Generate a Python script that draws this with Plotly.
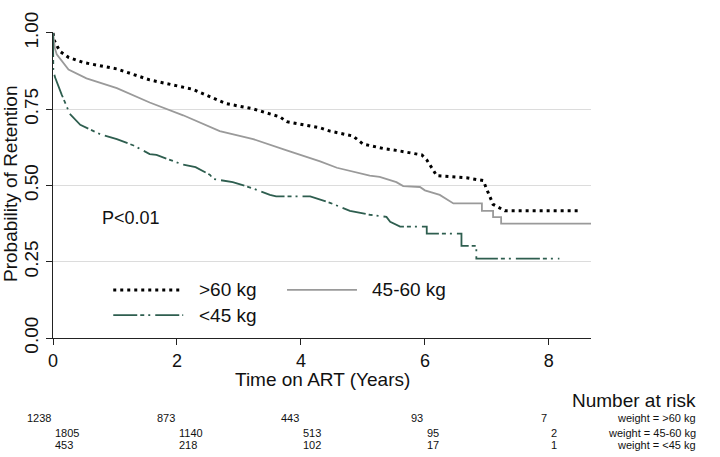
import plotly.graph_objects as go

# ---- data ----
t_gt60 = [0, 0.02, 0.11, 0.25, 0.49, 1.03, 1.56, 2.10, 2.26, 2.69, 2.80, 3.23, 3.66, 3.77, 4.31, 4.47,
          4.84, 5.00, 5.33, 5.54, 5.95, 6.03, 6.19, 6.67, 6.94, 7.10, 7.29, 8.50]
s_gt60 = [1.0, 0.975, 0.940, 0.920, 0.903, 0.882, 0.846, 0.824, 0.815, 0.777, 0.768, 0.751, 0.725, 0.709, 0.689, 0.678,
          0.662, 0.636, 0.621, 0.615, 0.600, 0.584, 0.532, 0.525, 0.516, 0.438, 0.417, 0.417]

t_4560 = [0, 0.03, 0.06, 0.14, 0.25, 0.54, 1.03, 1.56, 2.10, 2.69, 2.80, 3.23, 3.77, 4.31, 4.58, 5.11, 5.27,
          5.54, 5.65, 5.92, 6.00, 6.24, 6.46, 6.92, 6.92, 7.10, 7.10, 7.23, 7.23, 8.68]
s_4560 = [1.0, 0.950, 0.930, 0.908, 0.880, 0.851, 0.819, 0.772, 0.730, 0.678, 0.673, 0.652, 0.615, 0.579, 0.558, 0.532, 0.528,
          0.511, 0.498, 0.495, 0.484, 0.469, 0.441, 0.441, 0.417, 0.417, 0.396, 0.396, 0.375, 0.375]

t_lt45 = [0, 0.005, 0.03, 0.06, 0.14, 0.27, 0.44, 0.76, 1.03, 1.30, 1.56, 1.67, 2.10, 2.30, 2.53, 2.59, 2.90,
          3.23, 3.50, 3.60, 4.15, 4.47, 4.79, 5.11, 5.38, 5.44, 5.60, 6.03, 6.03, 6.59, 6.59, 6.83, 6.83, 8.17]
s_lt45 = [1.0, 0.880, 0.856, 0.840, 0.798, 0.735, 0.699, 0.668, 0.652, 0.631, 0.603, 0.600, 0.568, 0.560, 0.535, 0.521, 0.511,
          0.490, 0.469, 0.464, 0.464, 0.443, 0.417, 0.404, 0.397, 0.381, 0.365, 0.365, 0.342, 0.342, 0.302, 0.302, 0.260, 0.260]

group_names = [">60 kg", "45-60 kg", "<45 kg"]
risk_times = [0, 2, 4, 6, 8]
risk_gt60 = [1238, 873, 443, 93, 7]
risk_4560 = [1805, 1140, 513, 95, 2]
risk_lt45 = [453, 218, 102, 17, 1]
x_ticks = [0, 2, 4, 6, 8]
y_ticks = [0, 0.25, 0.5, 0.75, 1.0]
y_ticktext = ["0.00", "0.25", "0.50", "0.75", "1.00"]

FONT = "Liberation Sans, Arial, sans-serif"
BLACK = "#000000"
GRAY = "#9a9a9a"
GREEN = "#2e5e4f"
DOT = "3px,4px"
DASHDOT = "24px,3px,4px,4px,2px,5px"

fig = go.Figure()
fig.add_trace(go.Scatter(x=t_gt60, y=s_gt60, mode="lines", name=group_names[0],
                         line=dict(color=BLACK, width=3, dash=DOT), showlegend=False))
fig.add_trace(go.Scatter(x=t_4560, y=s_4560, mode="lines", name=group_names[1],
                         line=dict(color=GRAY, width=1.8), showlegend=False))
fig.add_trace(go.Scatter(x=t_lt45, y=s_lt45, mode="lines", name=group_names[2],
                         line=dict(color=GREEN, width=1.8, dash=DASHDOT), showlegend=False))

# manual legend keys (paper coords)
legend_items = [
    (0.112, 0.242, 0.157, BLACK, 3, DOT, 0.268, group_names[0]),
    (0.435, 0.565, 0.157, GRAY, 1.8, "solid", 0.589, group_names[1]),
    (0.112, 0.242, 0.075, GREEN, 1.8, DASHDOT, 0.268, group_names[2]),
]
annotations = []
shapes = []
for x0, x1, yy, col, w, dash, tx, label in legend_items:
    shapes.append(dict(type="line", xref="paper", yref="paper", x0=x0, x1=x1, y0=yy, y1=yy,
                       line=dict(color=col, width=w, dash=dash)))
    annotations.append(dict(xref="paper", yref="paper", x=tx, y=yy, text=label, showarrow=False,
                            xanchor="left", yanchor="middle", font=dict(size=19, color="#111")))

annotations.append(dict(x=0.76, y=0.392, xref="x", yref="y", text="P<0.01", showarrow=False,
                        xanchor="left", yanchor="middle", font=dict(size=18, color="#111")))

# axis titles
annotations.append(dict(xref="paper", yref="paper", x=0.5, y=-0.134, text="Time on ART (Years)",
                        showarrow=False, xanchor="center", yanchor="middle", font=dict(size=19, color="#111")))
annotations.append(dict(xref="paper", yref="paper", x=-0.079, y=0.505, text="Probability of Retention",
                        showarrow=False, textangle=-90, xanchor="center", yanchor="middle",
                        font=dict(size=19, color="#111")))

# number at risk table
annotations.append(dict(xref="paper", yref="paper", x=1.199, y=-0.204, text="Number at risk",
                        showarrow=False, xanchor="right", yanchor="middle", font=dict(size=19, color="#111")))
rows = [(risk_gt60, -0.263, "right", "weight = >60 kg"),
        (risk_4560, -0.310, "left", "weight = 45-60 kg"),
        (risk_lt45, -0.351, "left", "weight = <45 kg")]
for vals, yy, anchor, lab in rows:
    for tt, v in zip(risk_times, vals):
        annotations.append(dict(xref="x", yref="paper", x=tt, y=yy, text=str(v), showarrow=False,
                                xanchor=anchor, yanchor="middle", font=dict(size=11, color="#111")))
    annotations.append(dict(xref="paper", yref="paper", x=1.199, y=yy, text=lab, showarrow=False,
                            xanchor="right", yanchor="middle", font=dict(size=11, color="#111")))

fig.update_layout(
    width=720, height=457,
    margin=dict(l=53, r=129, t=18, b=119),
    paper_bgcolor="white", plot_bgcolor="white",
    font=dict(family=FONT, color="#111"),
    shapes=shapes, annotations=annotations,
    showlegend=False,
)
fig.update_xaxes(range=[0, 8.68], tickvals=x_ticks, showgrid=False, zeroline=False,
                 showline=True, linecolor="#222", linewidth=1.3, ticks="outside", ticklen=6,
                 tickcolor="#222", tickwidth=1.3, tickfont=dict(size=18, color="#111"),
                 ticklabelstandoff=0)
fig.update_yaxes(range=[0, 1.003], tickvals=y_ticks, ticktext=y_ticktext, tickangle=-90,
                 ticklabeloverflow="allow",
                 showgrid=True, gridcolor="#dcdcdc", gridwidth=1.2, zeroline=False,
                 showline=True, linecolor="#222", linewidth=1.3, ticks="outside", ticklen=6,
                 tickcolor="#222", tickwidth=1.3, tickfont=dict(size=19, color="#111"))

fig.write_html("out.html", config={"displayModeBar": False},
               post_script="document.body.style.margin='0';")
